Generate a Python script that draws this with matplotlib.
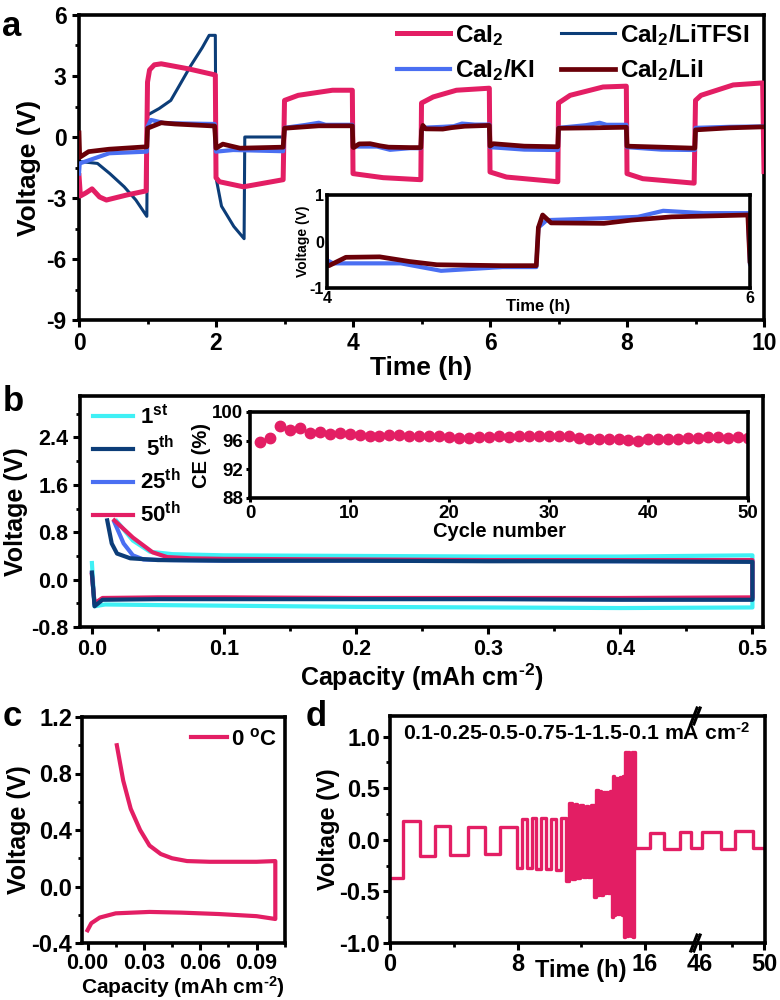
import numpy as np
import matplotlib
matplotlib.use('Agg')
import matplotlib.pyplot as plt
from matplotlib.ticker import MultipleLocator, FixedLocator
from matplotlib.lines import Line2D

plt.rcParams.update({
    'font.family': ['Liberation Sans', 'DejaVu Sans'],
    'font.weight': 'bold',
    'axes.labelweight': 'bold',
    'axes.unicode_minus': False,
    'mathtext.fontset': 'custom',
    'mathtext.rm': 'Liberation Sans:bold',
    'mathtext.bf': 'Liberation Sans:bold',
    'mathtext.it': 'Liberation Sans:bold:italic',
    'mathtext.sf': 'Liberation Sans:bold',
    'axes.linewidth': 2.6,
    'xtick.major.width': 2.2, 'ytick.major.width': 2.2,
    'xtick.minor.width': 2.0, 'ytick.minor.width': 2.0,
    'xtick.major.size': 5, 'ytick.major.size': 5,
    'xtick.minor.size': 3, 'ytick.minor.size': 3,
    'xtick.direction': 'out', 'ytick.direction': 'out',
})

PINK = '#e31e64'
NAVY = '#0c3d78'
BLUE = '#4a6ff2'
MAROON = '#6a0008'
CYAN = '#3ff0f5'

# ---------------- panel a data ----------------
a_labels = ['CaI$_2$', 'CaI$_2$/KI', 'CaI$_2$/LiTFSI', 'CaI$_2$/LiI']

cai2_t = [0.0, 0.02, 0.1, 0.19, 0.3, 0.4, 0.7, 0.98,
          1.0, 1.03, 1.1, 1.2, 1.6, 1.99,
          2.0, 2.05, 2.4, 2.98,
          3.0, 3.2, 3.7, 3.99,
          4.0, 4.44, 4.99,
          5.0, 5.17, 5.51, 5.99,
          6.0, 6.24, 6.99,
          7.0, 7.17, 7.65, 7.99,
          8.0, 8.23, 8.98,
          9.0, 9.08, 9.55, 9.98, 10.0]
cai2_v = [-1.9, -2.9, -2.75, -2.55, -2.95, -3.1, -2.85, -2.65,
          2.7, 3.3, 3.55, 3.6, 3.35, 3.05,
          -2.0, -2.2, -2.45, -2.1,
          1.8, 2.05, 2.3, 2.3,
          -1.8, -2.0, -2.1,
          1.67, 1.97, 2.3, 2.4,
          -1.72, -1.97, -2.2,
          1.67, 2.05, 2.46, 2.5,
          -1.8, -2.05, -2.27,
          1.8, 2.05, 2.56, 2.66, -1.7]

ki_t = [0.0, 0.01, 0.44, 0.99,
        1.0, 1.05, 1.25, 1.98,
        2.0, 2.25, 2.98,
        3.0, 3.3, 3.5, 3.6, 3.99,
        4.0, 4.03, 4.35, 4.54, 4.83, 4.99,
        5.0, 5.04, 5.31, 5.47, 5.59, 5.78, 5.99,
        6.0, 6.5, 6.99,
        7.0, 7.4, 7.6, 7.7, 7.99,
        8.0, 8.5, 8.99,
        9.0, 9.5, 10.0]
ki_v = [-1.8, -1.3, -0.8, -0.72,
        0.5, 0.84, 0.68, 0.64,
        -0.72, -0.64, -0.7,
        0.45, 0.59, 0.7, 0.6, 0.6,
        -0.4, -0.47, -0.47, -0.63, -0.55, -0.55,
        0.3, 0.46, 0.5, 0.53, 0.66, 0.61, 0.61,
        -0.5, -0.62, -0.64,
        0.45, 0.58, 0.7, 0.6, 0.6,
        -0.5, -0.62, -0.64,
        0.45, 0.5, 0.52]

litfsi_t = [0.0, 0.27, 0.45, 0.66, 0.83, 0.99,
            1.0, 1.17, 1.34, 1.46, 1.63, 1.8, 1.9, 1.99,
            2.0, 2.08, 2.26, 2.41,
            2.42, 2.98]
litfsi_v = [-1.2, -1.3, -1.8, -2.45, -3.1, -3.9,
            1.08, 1.4, 1.8, 2.5, 3.5, 4.4, 5.0, 5.0,
            -2.0, -3.4, -4.4, -5.0,
            0.0, 0.0]

lii_t = [0.0, 0.01, 0.14, 0.44, 0.99,
         1.0, 1.2, 1.4, 1.98,
         2.0, 2.1, 2.35, 2.98,
         3.0, 3.5, 3.99,
         4.0, 4.01, 4.09, 4.25, 4.39, 4.52, 4.83, 4.99,
         5.0, 5.02, 5.06, 5.31, 5.44, 5.63, 5.99,
         6.0, 6.05, 6.5, 6.99,
         7.0, 7.5, 7.99,
         8.0, 8.5, 8.99,
         9.0, 9.5, 10.0]
lii_v = [0.2, -1.0, -0.72, -0.6, -0.48,
         0.43, 0.7, 0.64, 0.54,
         -0.55, -0.35, -0.55, -0.5,
         0.43, 0.55, 0.55,
         -0.5, -0.52, -0.34, -0.33, -0.43, -0.5, -0.52, -0.52,
         0.3, 0.57, 0.4, 0.39, 0.46, 0.53, 0.57,
         -0.45, -0.33, -0.45, -0.48,
         0.43, 0.45, 0.48,
         -0.45, -0.5, -0.55,
         0.35, 0.45, 0.5]

# ---------------- panel b data ----------------
b_labels = ['1$^{\\mathrm{st}}$', ' 5$^{\\mathrm{th}}$', '25$^{\\mathrm{th}}$', '50$^{\\mathrm{th}}$']
c1_cap = [0.0, 0.002, 0.01, 0.05, 0.1, 0.2, 0.3, 0.4, 0.5,
          0.5, 0.4, 0.3, 0.2, 0.1, 0.061, 0.044, 0.031, 0.0187]
c1_v = [0.28, -0.45, -0.42, -0.43, -0.44, -0.46, -0.47, -0.48, -0.47,
        0.41, 0.39, 0.39, 0.40, 0.41, 0.43, 0.47, 0.66, 0.99]
c5_cap = [0.0, 0.002, 0.008, 0.05, 0.1, 0.2, 0.3, 0.4, 0.5,
          0.5, 0.4, 0.3, 0.2, 0.1, 0.05, 0.029, 0.019, 0.015, 0.0116]
c5_v = [0.12, -0.45, -0.34, -0.33, -0.33, -0.33, -0.33, -0.34, -0.34,
        0.30, 0.31, 0.31, 0.32, 0.32, 0.33, 0.36, 0.44, 0.61, 1.0]
c25_cap = [0.0, 0.002, 0.008, 0.05, 0.1, 0.2, 0.3, 0.4, 0.5,
           0.5, 0.4, 0.3, 0.2, 0.1, 0.06, 0.039, 0.031, 0.024, 0.017]
c25_v = [0.1, -0.42, -0.33, -0.32, -0.32, -0.32, -0.32, -0.33, -0.33,
         0.31, 0.31, 0.32, 0.32, 0.32, 0.33, 0.34, 0.41, 0.61, 0.97]
c50_cap = [0.0, 0.002, 0.008, 0.05, 0.1, 0.2, 0.3, 0.4, 0.5,
           0.5, 0.4, 0.3, 0.2, 0.1, 0.075, 0.057, 0.046, 0.031, 0.017]
c50_v = [0.08, -0.40, -0.31, -0.30, -0.30, -0.31, -0.31, -0.31, -0.30,
         0.33, 0.33, 0.33, 0.34, 0.35, 0.36, 0.38, 0.46, 0.71, 1.0]

ce_cycle = list(range(1, 51))
ce_value = [95.8, 96.4, 98.1, 97.5, 97.7, 97.1, 97.2, 96.9, 97.1, 96.9,
            96.8, 96.7, 96.7, 96.8, 96.8, 96.7, 96.6, 96.7, 96.6, 96.5,
            96.4, 96.4, 96.5, 96.5, 96.6, 96.5, 96.6, 96.6, 96.6, 96.7,
            96.6, 96.6, 96.4, 96.2, 96.3, 96.2, 96.2, 96.1, 96.0, 96.2,
            96.2, 96.3, 96.3, 96.4, 96.4, 96.5, 96.5, 96.4, 96.5, 96.4]

# ---------------- panel c data ----------------
c_label = '0 $^{\\mathrm{o}}$C'
c_cap = [0.0, 0.002, 0.0065, 0.015, 0.033, 0.05, 0.07, 0.09, 0.1,
         0.1, 0.09, 0.08, 0.065, 0.053, 0.045, 0.039, 0.033, 0.028, 0.023, 0.019, 0.0156]
c_v = [-0.31, -0.26, -0.22, -0.19, -0.18, -0.185, -0.195, -0.21, -0.23,
       0.18, 0.175, 0.175, 0.175, 0.18, 0.2, 0.23, 0.29, 0.40, 0.55, 0.75, 1.0]

# ---------------- panel d data ----------------
d_time = [0.0, 0.84, 1.88, 2.82, 3.76, 4.91, 5.96, 6.90,
          7.95, 8.26, 8.57, 8.88, 9.19, 9.50, 9.81, 10.12, 10.43, 10.74,
          11.05, 11.225, 11.40, 11.575, 11.75, 11.925, 12.10, 12.275, 12.45, 12.625,
          12.80, 12.91, 13.02, 13.13, 13.24, 13.35, 13.46, 13.57, 13.68, 13.79,
          13.90, 13.98, 14.06, 14.14, 14.22, 14.30, 14.38, 14.46, 14.54, 14.62,
          14.70, 14.77, 14.84, 14.91, 14.98, 15.05, 15.12, 15.19, 15.26, 15.33,
          15.40, 16.30, 17.20, 18.20, 18.90,
          46.10, 47.30, 48.20, 49.30, 50.0]
d_volt = [-0.37, 0.18, -0.16, 0.13, -0.15, 0.12, -0.14, 0.12,
          -0.27, 0.20, -0.27, 0.21, -0.28, 0.21, -0.28, 0.20, -0.29, 0.21,
          -0.40, 0.36, -0.38, 0.35, -0.37, 0.34, -0.36, 0.33, -0.36, 0.34,
          -0.55, 0.48, -0.53, 0.47, -0.53, 0.46, -0.52, 0.46, -0.52, 0.47,
          -0.75, 0.62, -0.73, 0.60, -0.72, 0.60, -0.72, 0.61, -0.73, 0.62,
          -0.94, 0.85, -0.93, 0.85, -0.92, 0.84, -0.93, 0.85, -0.94, 0.85,
          -0.08, 0.07, -0.09, 0.08, -0.08,
          0.08, -0.09, 0.09, -0.08, -0.08]
d_text = '0.1-0.25-0.5-0.75-1-1.5-0.1 mA cm$^{\\text{-}2}$'
cap_label = 'Capacity (mAh cm$^{\\text{-}2}$)'

fig = plt.figure(figsize=(7.8, 10), dpi=100)

# ================= panel a =================
axa = fig.add_axes([0.1013, 0.68, 0.8782, 0.305])
axa.plot(litfsi_t, litfsi_v, color=NAVY, lw=2.2, label=a_labels[2], zorder=2)
axa.plot(cai2_t, cai2_v, color=PINK, lw=3.6, label=a_labels[0], zorder=3)
axa.plot(ki_t, ki_v, color=BLUE, lw=3.0, label=a_labels[1], zorder=4)
axa.plot(lii_t, lii_v, color=MAROON, lw=3.4, label=a_labels[3], zorder=5)
axa.set_xlim(0, 10)
axa.set_ylim(-9, 6)
axa.xaxis.set_major_locator(MultipleLocator(2))
axa.xaxis.set_minor_locator(MultipleLocator(1))
axa.yaxis.set_major_locator(MultipleLocator(3))
axa.yaxis.set_minor_locator(MultipleLocator(1.5))
axa.tick_params(labelsize=16.5, pad=4)
axa.set_xlabel('Time (h)', fontsize=19, labelpad=0)
axa.set_ylabel('Voltage (V)', fontsize=19, labelpad=4)
h = {l.get_label(): l for l in axa.get_lines()}
axa.legend([h[a_labels[0]], h[a_labels[1]], h[a_labels[2]], h[a_labels[3]]],
           [a_labels[0], a_labels[1], a_labels[2], a_labels[3]],
           ncol=2, frameon=False, fontsize=17.5, loc='upper right',
           bbox_to_anchor=(1.01, 1.05), handlelength=2.2, handletextpad=0.2,
           columnspacing=1.1, labelspacing=0.4)

axai = fig.add_axes([0.419, 0.712, 0.5425, 0.093])
axai.set_facecolor('white')
axai.plot(ki_t, ki_v, color=BLUE, lw=3.0)
axai.plot(lii_t, lii_v, color=MAROON, lw=3.4)
axai.set_xlim(4, 6)
axai.set_ylim(-1, 1)
axai.set_xticks([4, 6])
axai.set_yticks([-1, 0, 1])
axai.tick_params(length=0, labelsize=11.5, pad=2)
axai.set_xlabel('Time (h)', fontsize=12, labelpad=-5)
axai.set_ylabel('Voltage (V)', fontsize=10, labelpad=0)

# ================= panel b =================
axb = fig.add_axes([0.1026, 0.373, 0.8756, 0.231])
l1, = axb.plot(c1_cap, c1_v, color=CYAN, lw=3.0, zorder=2)
l25, = axb.plot(c25_cap, c25_v, color=BLUE, lw=3.0, zorder=3)
l50, = axb.plot(c50_cap, c50_v, color=PINK, lw=3.0, zorder=4)
l5, = axb.plot(c5_cap, c5_v, color=NAVY, lw=3.0, zorder=5)
axb.set_xlim(-0.009, 0.508)
axb.set_ylim(-0.8, 3.1)
axb.xaxis.set_major_locator(MultipleLocator(0.1))
axb.xaxis.set_minor_locator(MultipleLocator(0.05))
axb.yaxis.set_major_locator(FixedLocator([-0.8, 0.0, 0.8, 1.6, 2.4]))
axb.yaxis.set_minor_locator(FixedLocator([-0.4, 0.4, 1.2, 2.0, 2.8]))
axb.tick_params(labelsize=15.5)
axb.set_xlabel(cap_label, fontsize=18, labelpad=1)
axb.set_ylabel('Voltage (V)', fontsize=18, labelpad=2)
axb.legend([l1, l5, l25, l50], b_labels, frameon=False, fontsize=16,
           loc='upper left', bbox_to_anchor=(0.0, 1.02), handlelength=1.8,
           handletextpad=0.3, labelspacing=0.35, borderaxespad=0.2)

axbi = fig.add_axes([0.3205, 0.502, 0.6385, 0.086])
axbi.plot(ce_cycle, ce_value, 'o', color=PINK, ms=7.5, clip_on=True)
axbi.set_xlim(0, 50)
axbi.set_ylim(88, 100)
axbi.set_yticks([88, 92, 96, 100])
axbi.set_xticks([0, 10, 20, 30, 40, 50])
axbi.tick_params(labelsize=13.5, length=3, pad=2)
axbi.set_xlabel('Cycle number', fontsize=14.5, labelpad=0)
axbi.set_ylabel('CE (%)', fontsize=14.5, labelpad=1)

# ================= panel c =================
axc = fig.add_axes([0.105, 0.057, 0.26, 0.226])
axc.plot(c_cap, c_v, color=PINK, lw=3.0, label=c_label)
axc.set_xlim(-0.003, 0.105)
axc.set_ylim(-0.4, 1.2)
axc.set_xticks([0.0, 0.03, 0.06, 0.09])
axc.set_xticklabels(['0.00', '0.03', '0.06', '0.09'])
axc.xaxis.set_minor_locator(MultipleLocator(0.015))
axc.yaxis.set_major_locator(MultipleLocator(0.4))
axc.yaxis.set_minor_locator(MultipleLocator(0.2))
axc.tick_params(axis='y', labelsize=17, pad=2)
axc.tick_params(axis='x', labelsize=15.5, pad=2)
axc.set_xlabel(cap_label, fontsize=15, labelpad=0)
axc.set_ylabel('Voltage (V)', fontsize=18, labelpad=0)
axc.legend(frameon=False, fontsize=16, loc='upper right', handlelength=1.6,
           handletextpad=0.2, borderaxespad=0.1, bbox_to_anchor=(1.02, 1.0))

# ================= panel d =================
axd1 = fig.add_axes([0.5, 0.057, 0.3936, 0.227])
axd2 = fig.add_axes([0.8936, 0.057, 0.0872, 0.227])
for ax in (axd1, axd2):
    ax.plot(d_time, d_volt, color=PINK, lw=2.4, drawstyle='steps-post')
    ax.set_ylim(-1.0, 1.2)
axd1.set_xlim(0, 19.26)
axd2.set_xlim(45.8, 50.05)
axd1.set_xticks([0, 8, 16])
axd1.xaxis.set_minor_locator(FixedLocator([4, 12]))
axd2.set_xticks([46, 50])
axd2.xaxis.set_minor_locator(FixedLocator([48]))
axd1.yaxis.set_major_locator(MultipleLocator(0.5))
axd1.yaxis.set_minor_locator(MultipleLocator(0.25))
axd1.spines['right'].set_visible(False)
axd2.spines['left'].set_visible(False)
axd2.tick_params(axis='y', left=False, labelleft=False, which='both')
axd1.tick_params(labelsize=17, pad=2)
axd2.tick_params(labelsize=17, pad=2)
axd1.set_ylabel('Voltage (V)', fontsize=17, labelpad=0)
axd1.set_xlabel('Time (h)', fontsize=17)
axd1.xaxis.set_label_coords(0.62, -0.07)
fig.text(0.739, 0.267, d_text, fontsize=15.3, ha='center', va='center')

# break marks
for yb in (0.284, 0.057):
    for dx in (-0.004, 0.0):
        fig.add_artist(Line2D([0.8936 + dx - 0.004, 0.8936 + dx + 0.004],
                              [yb - 0.008, yb + 0.008], color='black', lw=2.2,
                              transform=fig.transFigure))

# panel letters
fig.text(0.003, 0.99, 'a', fontsize=25, va='top', ha='left')
fig.text(0.003, 0.615, 'b', fontsize=25, va='top', ha='left')
fig.text(0.003, 0.30, 'c', fontsize=25, va='top', ha='left')
fig.text(0.392, 0.30, 'd', fontsize=25, va='top', ha='left')

fig.savefig('out.png', dpi=100)
